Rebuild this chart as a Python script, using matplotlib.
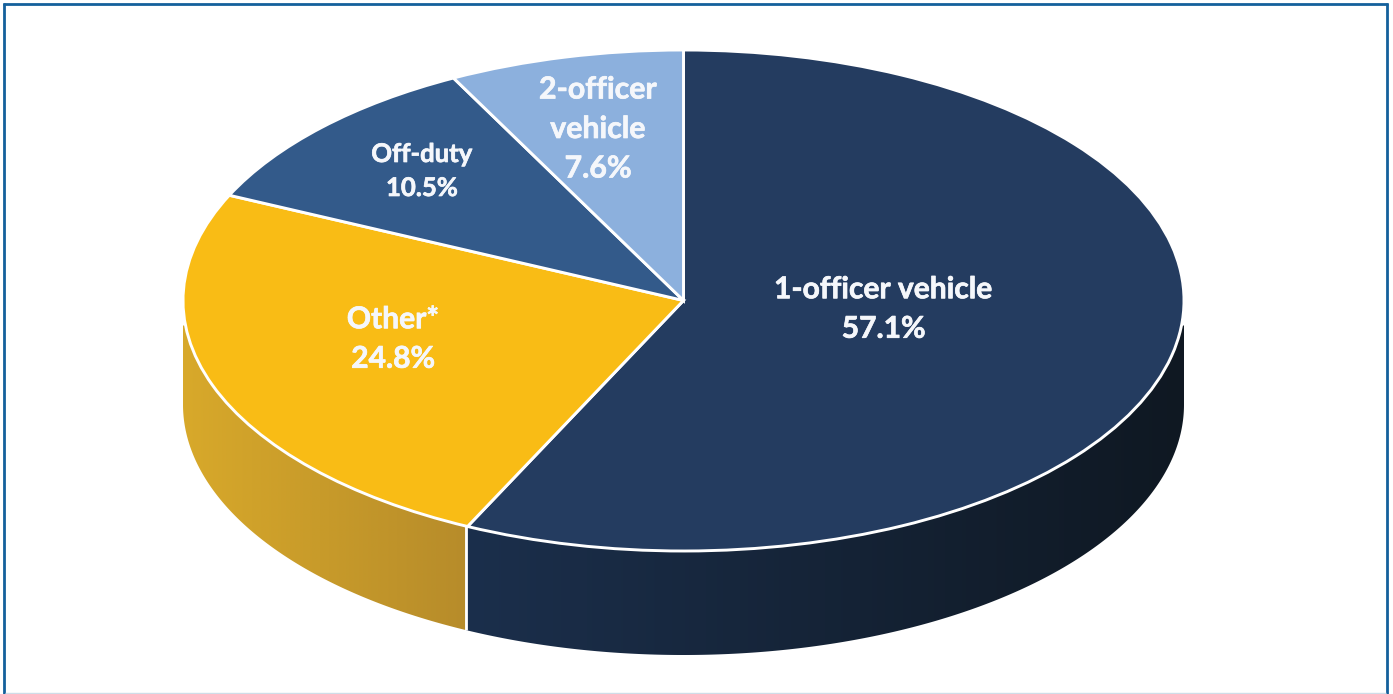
import numpy as np
import matplotlib
matplotlib.use("Agg")
import matplotlib.pyplot as plt
import matplotlib.patheffects as pe
from matplotlib.colors import to_rgb
from matplotlib.lines import Line2D
from matplotlib.patches import Polygon

# Share of incidents by assignment, clockwise from 12 o'clock
categories = ["1-officer vehicle", "Other*", "Off-duty", "2-officer\nvehicle"]
shares = [57.1, 24.8, 10.5, 7.6]

top_colors = ["#243c60", "#f9bc15", "#335a8a", "#8cb0dd"]
# rim shading, left end and right end of each visible wall
navy_rim = ("#1b2f4c", "#0f1822")
gold_rim = ("#d8a92a", "#b78c2a")

W, H = 1393, 694
CX, CY = 683.5, 300.5     # pie centre in pixels
RX, RY = 500.5, 250.5     # ellipse half axes in pixels
DEPTH = 104 / RY          # wall height in data units
SHOULDER = 25 / RY        # walls start this far below the widest point


def px(x, y):
    return (x - CX) / RX, (CY - y) / RY


fig = plt.figure(figsize=(W / 100, H / 100), dpi=100, facecolor="white")
ax = fig.add_axes([0, 0, 1, 1])

# flat top of the pie, squashed into an ellipse once the aspect is released
ax.pie(shares, startangle=90, counterclock=False, colors=top_colors, radius=1,
       wedgeprops=dict(edgecolor="white", linewidth=2.1, zorder=3))


def draw_wall(a_start, a_end, left_color, right_color):
    # horizontal colour ramp clipped to the wall outline
    angles = np.radians(np.linspace(a_start, a_end, 300))
    xs = np.cos(angles)
    upper = np.minimum(np.sin(angles), -SHOULDER)
    lower = np.sin(angles) - DEPTH
    outline = np.column_stack([np.r_[xs, xs[::-1]], np.r_[upper, lower[::-1]]])
    patch = Polygon(outline, closed=True, facecolor="none", edgecolor="none",
                    transform=ax.transData)
    ax.add_patch(patch)
    c0, c1 = np.array(to_rgb(left_color)), np.array(to_rgb(right_color))
    ramp = np.linspace(0, 1, 256)[None, :, None] * (c1 - c0) + c0
    img = ax.imshow(ramp, extent=(xs.min(), xs.max(), lower.min(), upper.max()),
                    aspect="auto", interpolation="bilinear", zorder=1)
    img.set_clip_path(patch)


# walls only show on the front half, and the seam sits a touch left of the slice corner
corner = 90 - shares[0] * 3.6
seam_x = np.cos(np.radians(corner)) - 2 / RX
seam = -np.degrees(np.arccos(seam_x))
draw_wall(seam, 0, *navy_rim)
draw_wall(-180, seam, *gold_rim)

# white seam where the two walls meet
seam_y = np.sin(np.radians(seam))
ax.plot([seam_x, seam_x], [seam_y, seam_y - DEPTH], color="white", lw=2.0, zorder=2,
        solid_capstyle="butt")

ax.set_aspect("auto")
x0, y0 = px(0, H)
x1, y1 = px(W, 0)
ax.set_xlim(x0, x1)
ax.set_ylim(y0, y1)
ax.set_axis_off()

# slice labels
label_px = [(883.5, 309), (393, 339), (422, 171), (598, 129)]
label_size = [21.6, 21.6, 18.5, 21.8]
for name, share, (lx, ly), size in zip(categories, shares, label_px, label_size):
    tx, ty = px(lx, ly)
    ax.text(tx, ty, f"{name}\n{share}%", ha="center", va="center", color="#f5f7fb",
            fontsize=size, fontfamily="Lato", fontweight="bold", linespacing=1.5,
            zorder=5, path_effects=[pe.withStroke(linewidth=0.5, foreground="#f5f7fb")])

# picture frame
frame = dict(transform=fig.transFigure, solid_capstyle="butt")
fig.add_artist(Line2D([4 / W, 4 / W], [0, 1 - 3 / H], color="#14609c", lw=2.0, **frame))
fig.add_artist(Line2D([3 / W, 1387.5 / W], [1 - 4 / H, 1 - 4 / H], color="#14609c", lw=2.0, **frame))
fig.add_artist(Line2D([1387 / W, 1387 / W], [0, 1 - 3 / H], color="#14609c", lw=2.0, **frame))
fig.add_artist(Line2D([5 / W, 1386 / W], [1.5 / H, 1.5 / H], color="#cfdde8", lw=1.0, **frame))

fig.savefig("out.png", dpi=100, facecolor="white")
